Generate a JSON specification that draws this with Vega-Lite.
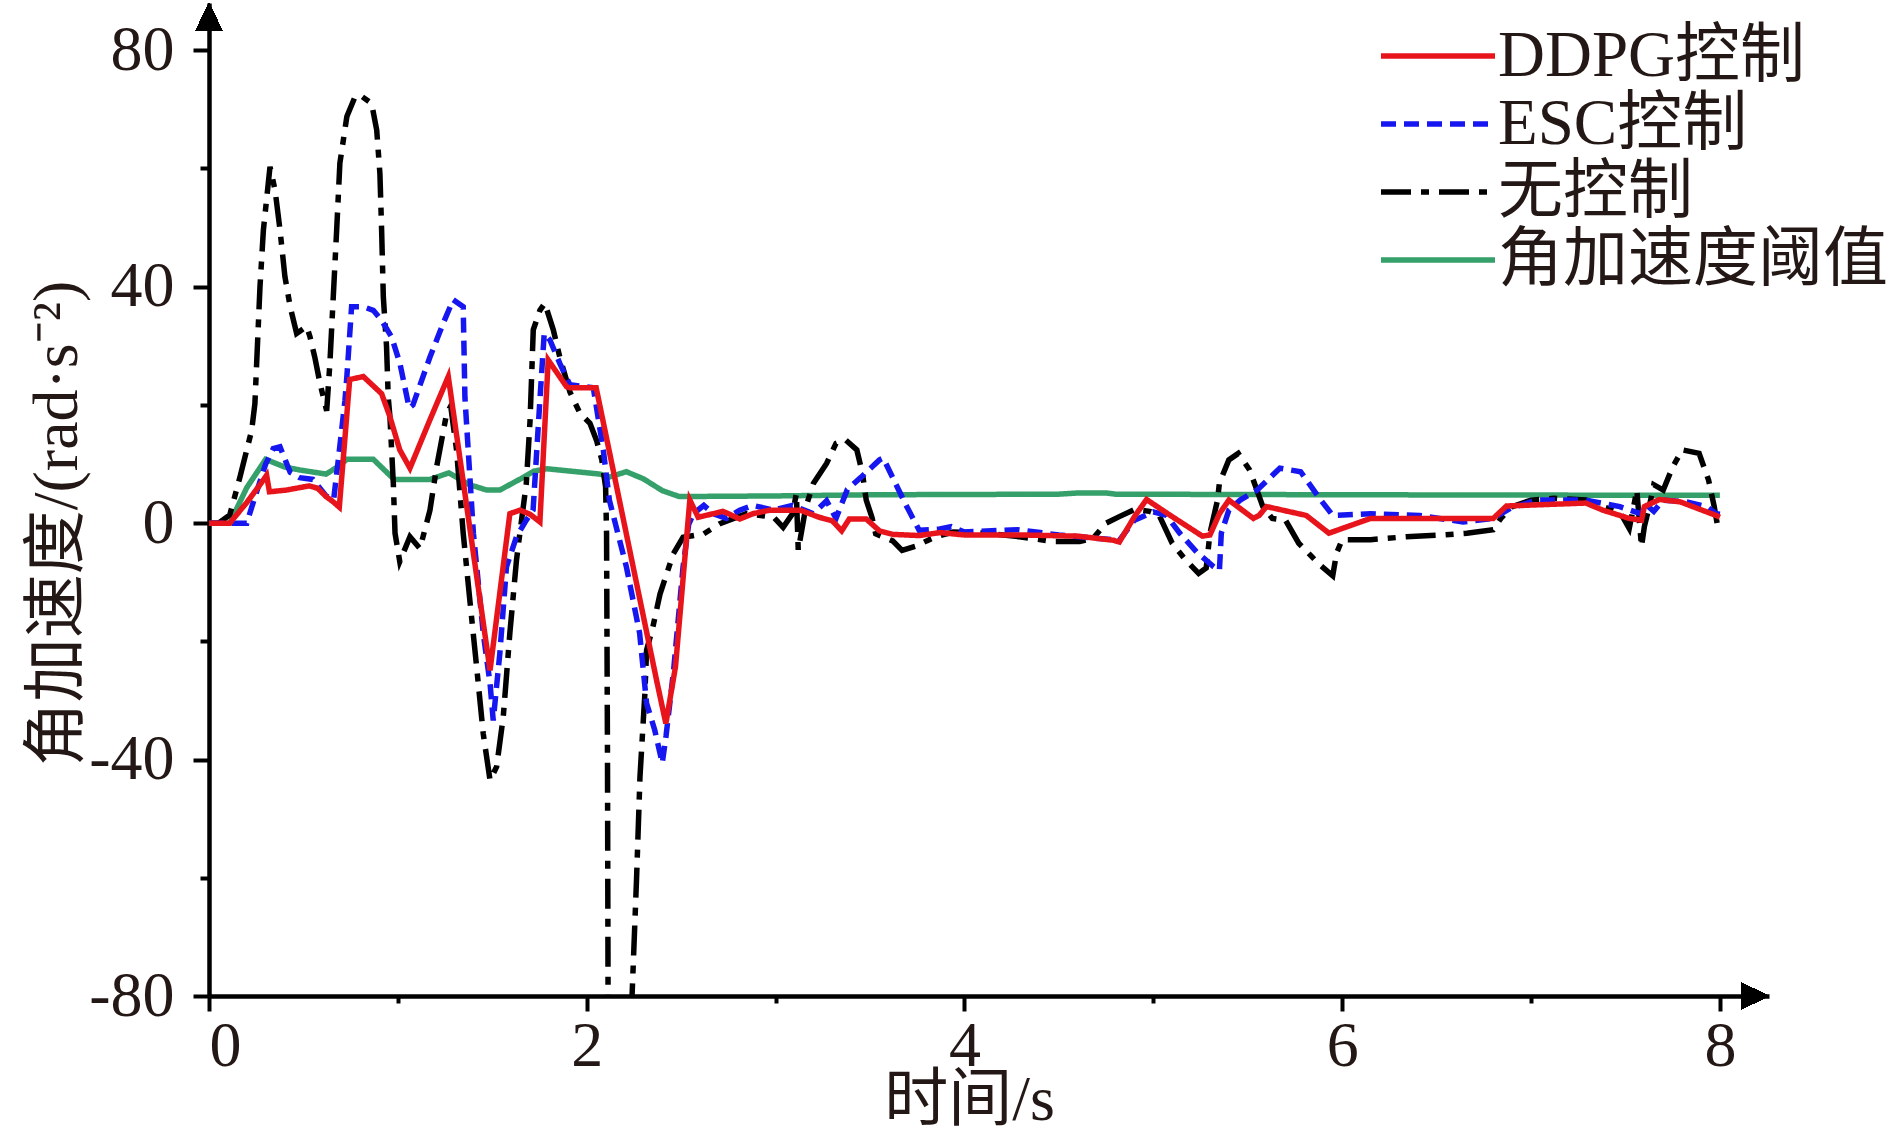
{
  "$schema": "https://vega.github.io/schema/vega-lite/v6.json",
  "width": 1560,
  "height": 993,
  "autosize": {"type": "none"},
  "padding": {"left": 209, "top": 3, "right": 121, "bottom": 144},
  "background": "white",
  "config": {"view": {"stroke": null}, "font": "Liberation Serif"},
  "resolve": {"axis": {"x": "independent", "y": "independent"}},
  "data": {"values": [
    {"time":0,"value":0,"series":"角加速度阈值"},{"time":0.11,"value":0,"series":"角加速度阈值"},{"time":0.2,"value":6,"series":"角加速度阈值"},{"time":0.3,"value":10.8,"series":"角加速度阈值"},{"time":0.4,"value":9.5,"series":"角加速度阈值"},{"time":0.48,"value":9,"series":"角加速度阈值"},{"time":0.62,"value":8.3,"series":"角加速度阈值"},{"time":0.68,"value":9.5,"series":"角加速度阈值"},{"time":0.73,"value":10.8,"series":"角加速度阈值"},{"time":0.87,"value":10.8,"series":"角加速度阈值"},{"time":0.98,"value":7.4,"series":"角加速度阈值"},{"time":1.17,"value":7.4,"series":"角加速度阈值"},{"time":1.27,"value":8.5,"series":"角加速度阈值"},{"time":1.38,"value":6.5,"series":"角加速度阈值"},{"time":1.47,"value":5.6,"series":"角加速度阈值"},{"time":1.54,"value":5.6,"series":"角加速度阈值"},{"time":1.65,"value":7.5,"series":"角加速度阈值"},{"time":1.72,"value":8.8,"series":"角加速度阈值"},{"time":1.79,"value":9.2,"series":"角加速度阈值"},{"time":2.07,"value":8.3,"series":"角加速度阈值"},{"time":2.12,"value":7.8,"series":"角加速度阈值"},{"time":2.21,"value":8.7,"series":"角加速度阈值"},{"time":2.3,"value":7.5,"series":"角加速度阈值"},{"time":2.4,"value":5.5,"series":"角加速度阈值"},{"time":2.49,"value":4.5,"series":"角加速度阈值"},{"time":3.0,"value":4.6,"series":"角加速度阈值"},{"time":3.5,"value":4.8,"series":"角加速度阈值"},{"time":4.5,"value":4.9,"series":"角加速度阈值"},{"time":4.6,"value":5.1,"series":"角加速度阈值"},{"time":4.75,"value":5.1,"series":"角加速度阈值"},{"time":4.8,"value":4.9,"series":"角加速度阈值"},{"time":6.0,"value":4.8,"series":"角加速度阈值"},{"time":8.0,"value":4.7,"series":"角加速度阈值"},

    {"time":0,"value":0,"series":"无控制"},{"time":0.05,"value":0,"series":"无控制"},{"time":0.11,"value":1.4,"series":"无控制"},{"time":0.164,"value":7.8,"series":"无控制"},{"time":0.226,"value":15.7,"series":"无控制"},{"time":0.243,"value":20.2,"series":"无控制"},{"time":0.27,"value":40,"series":"无控制"},{"time":0.288,"value":49.6,"series":"无控制"},{"time":0.323,"value":60.3,"series":"无控制"},{"time":0.35,"value":56.3,"series":"无控制"},{"time":0.376,"value":49.6,"series":"无控制"},{"time":0.402,"value":41.7,"series":"无控制"},{"time":0.43,"value":36.6,"series":"无控制"},{"time":0.464,"value":32.1,"series":"无控制"},{"time":0.517,"value":33.3,"series":"无控制"},{"time":0.535,"value":31.5,"series":"无控制"},{"time":0.56,"value":28.1,"series":"无控制"},{"time":0.588,"value":23.6,"series":"无控制"},{"time":0.623,"value":19,"series":"无控制"},{"time":0.64,"value":27,"series":"无控制"},{"time":0.658,"value":38.3,"series":"无控制"},{"time":0.676,"value":49.6,"series":"无控制"},{"time":0.693,"value":60.9,"series":"无控制"},{"time":0.73,"value":68.8,"series":"无控制"},{"time":0.773,"value":72.1,"series":"无控制"},{"time":0.8,"value":72.4,"series":"无控制"},{"time":0.861,"value":71,"series":"无控制"},{"time":0.888,"value":66.5,"series":"无控制"},{"time":0.905,"value":59.1,"series":"无控制"},{"time":0.914,"value":49.6,"series":"无控制"},{"time":0.923,"value":38.3,"series":"无控制"},{"time":0.94,"value":29.9,"series":"无控制"},{"time":0.949,"value":21.3,"series":"无控制"},{"time":0.958,"value":18,"series":"无控制"},{"time":0.976,"value":6.7,"series":"无控制"},{"time":0.985,"value":-1.7,"series":"无控制"},{"time":1.01,"value":-6.5,"series":"无控制"},{"time":1.064,"value":-2.3,"series":"无控制"},{"time":1.117,"value":-4.3,"series":"无控制"},{"time":1.17,"value":2.2,"series":"无控制"},{"time":1.205,"value":9.5,"series":"无控制"},{"time":1.258,"value":18.5,"series":"无控制"},{"time":1.28,"value":19.8,"series":"无控制"},{"time":1.311,"value":12.3,"series":"无控制"},{"time":1.346,"value":-1.7,"series":"无控制"},{"time":1.381,"value":-13,"series":"无控制"},{"time":1.417,"value":-24.3,"series":"无控制"},{"time":1.452,"value":-35.6,"series":"无控制"},{"time":1.488,"value":-43.5,"series":"无控制"},{"time":1.523,"value":-41.2,"series":"无控制"},{"time":1.558,"value":-32.8,"series":"无控制"},{"time":1.593,"value":-18.6,"series":"无控制"},{"time":1.628,"value":-6.3,"series":"无控制"},{"time":1.646,"value":-1.7,"series":"无控制"},{"time":1.68,"value":6.7,"series":"无控制"},{"time":1.7,"value":17.4,"series":"无控制"},{"time":1.717,"value":32.7,"series":"无控制"},{"time":1.752,"value":36,"series":"无控制"},{"time":1.778,"value":37.2,"series":"无控制"},{"time":1.823,"value":32.7,"series":"无控制"},{"time":1.858,"value":28,"series":"无控制"},{"time":1.911,"value":22.2,"series":"无控制"},{"time":1.964,"value":18.6,"series":"无控制"},{"time":2.017,"value":16.9,"series":"无控制"},{"time":2.052,"value":14,"series":"无控制"},{"time":2.08,"value":10.7,"series":"无控制"},{"time":2.1,"value":6.1,"series":"无控制"},{"time":2.105,"value":-1.8,"series":"无控制"},{"time":2.11,"value":-40,"series":"无控制"},{"time":2.113,"value":-80,"series":"无控制"},{"time":2.14,"value":-100,"series":"无控制"},{"time":2.2,"value":-100,"series":"无控制"},{"time":2.23,"value":-85,"series":"无控制"},{"time":2.24,"value":-80,"series":"无控制"},{"time":2.264,"value":-60,"series":"无控制"},{"time":2.282,"value":-42.9,"series":"无控制"},{"time":2.308,"value":-28.8,"series":"无控制"},{"time":2.317,"value":-21.5,"series":"无控制"},{"time":2.35,"value":-17.6,"series":"无控制"},{"time":2.388,"value":-12,"series":"无控制"},{"time":2.423,"value":-8.6,"series":"无控制"},{"time":2.458,"value":-5.2,"series":"无控制"},{"time":2.51,"value":-2.4,"series":"无控制"},{"time":2.62,"value":-1.8,"series":"无控制"},{"time":2.705,"value":-0.1,"series":"无控制"},{"time":2.846,"value":1.6,"series":"无控制"},{"time":2.99,"value":1,"series":"无控制"},{"time":3.04,"value":-0.7,"series":"无控制"},{"time":3.09,"value":1.6,"series":"无控制"},{"time":3.11,"value":5,"series":"无控制"},{"time":3.12,"value":-4.6,"series":"无控制"},{"time":3.16,"value":2.7,"series":"无控制"},{"time":3.2,"value":6.7,"series":"无控制"},{"time":3.27,"value":10.1,"series":"无控制"},{"time":3.32,"value":13.5,"series":"无控制"},{"time":3.37,"value":14.1,"series":"无控制"},{"time":3.43,"value":12.4,"series":"无控制"},{"time":3.46,"value":8.4,"series":"无控制"},{"time":3.48,"value":3.9,"series":"无控制"},{"time":3.51,"value":1,"series":"无控制"},{"time":3.53,"value":-1.8,"series":"无控制"},{"time":3.62,"value":-3,"series":"无控制"},{"time":3.67,"value":-4.6,"series":"无控制"},{"time":3.75,"value":-3.8,"series":"无控制"},{"time":3.8,"value":-3,"series":"无控制"},{"time":3.85,"value":-2.3,"series":"无控制"},{"time":3.94,"value":-1.5,"series":"无控制"},{"time":4.12,"value":-1.7,"series":"无控制"},{"time":4.29,"value":-2.3,"series":"无控制"},{"time":4.47,"value":-3.1,"series":"无控制"},{"time":4.61,"value":-3.1,"series":"无控制"},{"time":4.68,"value":-2.6,"series":"无控制"},{"time":4.75,"value":0,"series":"无控制"},{"time":4.82,"value":1.1,"series":"无控制"},{"time":4.9,"value":2.3,"series":"无控制"},{"time":4.98,"value":2,"series":"无控制"},{"time":5.03,"value":1.4,"series":"无控制"},{"time":5.1,"value":-3.4,"series":"无控制"},{"time":5.17,"value":-6.2,"series":"无控制"},{"time":5.24,"value":-8.5,"series":"无控制"},{"time":5.28,"value":-7.6,"series":"无控制"},{"time":5.3,"value":-1.7,"series":"无控制"},{"time":5.34,"value":3.9,"series":"无控制"},{"time":5.35,"value":6.8,"series":"无控制"},{"time":5.4,"value":10.7,"series":"无控制"},{"time":5.45,"value":11.8,"series":"无控制"},{"time":5.51,"value":9,"series":"无控制"},{"time":5.58,"value":2.8,"series":"无控制"},{"time":5.63,"value":0.8,"series":"无控制"},{"time":5.7,"value":0.5,"series":"无控制"},{"time":5.77,"value":-3.4,"series":"无控制"},{"time":5.88,"value":-7,"series":"无控制"},{"time":5.95,"value":-8.9,"series":"无控制"},{"time":5.97,"value":-5.1,"series":"无控制"},{"time":6.0,"value":-2.8,"series":"无控制"},{"time":6.15,"value":-2.8,"series":"无控制"},{"time":6.34,"value":-2.3,"series":"无控制"},{"time":6.53,"value":-2,"series":"无控制"},{"time":6.66,"value":-1.7,"series":"无控制"},{"time":6.8,"value":-1.1,"series":"无控制"},{"time":6.84,"value":0.8,"series":"无控制"},{"time":6.9,"value":2.8,"series":"无控制"},{"time":7.0,"value":3.9,"series":"无控制"},{"time":7.12,"value":4.2,"series":"无控制"},{"time":7.29,"value":3.9,"series":"无控制"},{"time":7.38,"value":2.8,"series":"无控制"},{"time":7.47,"value":1.9,"series":"无控制"},{"time":7.52,"value":-0.9,"series":"无控制"},{"time":7.55,"value":3.9,"series":"无控制"},{"time":7.56,"value":5.6,"series":"无控制"},{"time":7.585,"value":-4,"series":"无控制"},{"time":7.6,"value":-0.6,"series":"无控制"},{"time":7.63,"value":3.4,"series":"无控制"},{"time":7.65,"value":6.5,"series":"无控制"},{"time":7.7,"value":5.6,"series":"无控制"},{"time":7.75,"value":9.5,"series":"无控制"},{"time":7.8,"value":12.4,"series":"无控制"},{"time":7.89,"value":11.8,"series":"无控制"},{"time":7.94,"value":7.3,"series":"无控制"},{"time":7.97,"value":2.8,"series":"无控制"},{"time":7.99,"value":-0.9,"series":"无控制"},

    {"time":0,"value":0,"series":"ESC控制"},{"time":0.2,"value":0,"series":"ESC控制"},{"time":0.235,"value":3.6,"series":"ESC控制"},{"time":0.3,"value":10,"series":"ESC控制"},{"time":0.34,"value":12.6,"series":"ESC控制"},{"time":0.376,"value":12.9,"series":"ESC控制"},{"time":0.43,"value":8.6,"series":"ESC控制"},{"time":0.48,"value":7.7,"series":"ESC控制"},{"time":0.55,"value":7.4,"series":"ESC控制"},{"time":0.62,"value":4.6,"series":"ESC控制"},{"time":0.66,"value":4,"series":"ESC控制"},{"time":0.685,"value":10.8,"series":"ESC控制"},{"time":0.72,"value":20.8,"series":"ESC控制"},{"time":0.73,"value":24.8,"series":"ESC控制"},{"time":0.755,"value":36.6,"series":"ESC控制"},{"time":0.817,"value":36.6,"series":"ESC控制"},{"time":0.87,"value":36,"series":"ESC控制"},{"time":0.914,"value":34.3,"series":"ESC控制"},{"time":0.967,"value":31.5,"series":"ESC控制"},{"time":1.011,"value":27,"series":"ESC控制"},{"time":1.06,"value":19.5,"series":"ESC控制"},{"time":1.08,"value":20,"series":"ESC控制"},{"time":1.17,"value":28.1,"series":"ESC控制"},{"time":1.24,"value":33.8,"series":"ESC控制"},{"time":1.293,"value":37.8,"series":"ESC控制"},{"time":1.346,"value":36.6,"series":"ESC控制"},{"time":1.355,"value":21.3,"series":"ESC控制"},{"time":1.4,"value":-1.7,"series":"ESC控制"},{"time":1.452,"value":-18.6,"series":"ESC控制"},{"time":1.488,"value":-27.1,"series":"ESC控制"},{"time":1.505,"value":-33.4,"series":"ESC控制"},{"time":1.54,"value":-22,"series":"ESC控制"},{"time":1.575,"value":-7.4,"series":"ESC控制"},{"time":1.628,"value":-2.3,"series":"ESC控制"},{"time":1.68,"value":0.5,"series":"ESC控制"},{"time":1.716,"value":2.2,"series":"ESC控制"},{"time":1.752,"value":20.8,"series":"ESC控制"},{"time":1.775,"value":32.1,"series":"ESC控制"},{"time":1.805,"value":31,"series":"ESC控制"},{"time":1.858,"value":27,"series":"ESC控制"},{"time":1.911,"value":23.4,"series":"ESC控制"},{"time":2.035,"value":22.9,"series":"ESC控制"},{"time":2.088,"value":12.3,"series":"ESC控制"},{"time":2.12,"value":3.9,"series":"ESC控制"},{"time":2.21,"value":-7.4,"series":"ESC控制"},{"time":2.28,"value":-18.6,"series":"ESC控制"},{"time":2.317,"value":-30.5,"series":"ESC控制"},{"time":2.36,"value":-35,"series":"ESC控制"},{"time":2.4,"value":-40.6,"series":"ESC控制"},{"time":2.42,"value":-36,"series":"ESC控制"},{"time":2.46,"value":-24.9,"series":"ESC控制"},{"time":2.51,"value":-7.4,"series":"ESC控制"},{"time":2.54,"value":-0.2,"series":"ESC控制"},{"time":2.565,"value":1.6,"series":"ESC控制"},{"time":2.62,"value":3,"series":"ESC控制"},{"time":2.67,"value":1.6,"series":"ESC控制"},{"time":2.74,"value":0.8,"series":"ESC控制"},{"time":2.81,"value":2.2,"series":"ESC控制"},{"time":2.88,"value":3,"series":"ESC控制"},{"time":2.99,"value":2.2,"series":"ESC控制"},{"time":3.09,"value":3,"series":"ESC控制"},{"time":3.2,"value":1.6,"series":"ESC控制"},{"time":3.27,"value":3.8,"series":"ESC控制"},{"time":3.32,"value":0.8,"series":"ESC控制"},{"time":3.38,"value":5.7,"series":"ESC控制"},{"time":3.45,"value":7.7,"series":"ESC控制"},{"time":3.55,"value":10.7,"series":"ESC控制"},{"time":3.57,"value":11,"series":"ESC控制"},{"time":3.62,"value":7.7,"series":"ESC控制"},{"time":3.69,"value":3.1,"series":"ESC控制"},{"time":3.76,"value":-1.2,"series":"ESC控制"},{"time":3.87,"value":-1,"series":"ESC控制"},{"time":3.93,"value":-0.6,"series":"ESC控制"},{"time":4.0,"value":-1.5,"series":"ESC控制"},{"time":4.28,"value":-1.1,"series":"ESC控制"},{"time":4.5,"value":-2,"series":"ESC控制"},{"time":4.82,"value":-2.9,"series":"ESC控制"},{"time":4.9,"value":0.5,"series":"ESC控制"},{"time":5.0,"value":1.9,"series":"ESC控制"},{"time":5.07,"value":1.3,"series":"ESC控制"},{"time":5.14,"value":-1.7,"series":"ESC控制"},{"time":5.23,"value":-4.9,"series":"ESC控制"},{"time":5.32,"value":-7.4,"series":"ESC控制"},{"time":5.35,"value":-8,"series":"ESC控制"},{"time":5.36,"value":-1.7,"series":"ESC控制"},{"time":5.4,"value":2.2,"series":"ESC控制"},{"time":5.46,"value":3.9,"series":"ESC控制"},{"time":5.55,"value":5.6,"series":"ESC控制"},{"time":5.67,"value":9.3,"series":"ESC控制"},{"time":5.78,"value":8.7,"series":"ESC控制"},{"time":5.88,"value":4.2,"series":"ESC控制"},{"time":5.95,"value":1.3,"series":"ESC控制"},{"time":6.15,"value":1.6,"series":"ESC控制"},{"time":6.41,"value":1.3,"series":"ESC控制"},{"time":6.64,"value":0.2,"series":"ESC控制"},{"time":6.8,"value":0.8,"series":"ESC控制"},{"time":6.89,"value":2.5,"series":"ESC控制"},{"time":7.03,"value":3.9,"series":"ESC控制"},{"time":7.29,"value":3.9,"series":"ESC控制"},{"time":7.47,"value":2.8,"series":"ESC控制"},{"time":7.58,"value":1.6,"series":"ESC控制"},{"time":7.61,"value":3.1,"series":"ESC控制"},{"time":7.65,"value":2,"series":"ESC控制"},{"time":7.7,"value":3.9,"series":"ESC控制"},{"time":7.82,"value":3.6,"series":"ESC控制"},{"time":7.93,"value":2.8,"series":"ESC控制"},{"time":7.98,"value":1.6,"series":"ESC控制"},{"time":8.0,"value":1.5,"series":"ESC控制"},

    {"time":0,"value":0,"series":"DDPG控制"},{"time":0.11,"value":0,"series":"DDPG控制"},{"time":0.2,"value":3.5,"series":"DDPG控制"},{"time":0.27,"value":6.5,"series":"DDPG控制"},{"time":0.305,"value":8.1,"series":"DDPG控制"},{"time":0.32,"value":5.3,"series":"DDPG控制"},{"time":0.41,"value":5.6,"series":"DDPG控制"},{"time":0.53,"value":6.3,"series":"DDPG控制"},{"time":0.575,"value":5.9,"series":"DDPG控制"},{"time":0.62,"value":4.5,"series":"DDPG控制"},{"time":0.658,"value":3.6,"series":"DDPG控制"},{"time":0.69,"value":2.7,"series":"DDPG控制"},{"time":0.745,"value":24.3,"series":"DDPG控制"},{"time":0.817,"value":24.8,"series":"DDPG控制"},{"time":0.914,"value":21.9,"series":"DDPG控制"},{"time":0.958,"value":18,"series":"DDPG控制"},{"time":1.01,"value":12.4,"series":"DDPG控制"},{"time":1.064,"value":9.3,"series":"DDPG控制"},{"time":1.17,"value":17.5,"series":"DDPG控制"},{"time":1.267,"value":24.8,"series":"DDPG控制"},{"time":1.488,"value":-24.9,"series":"DDPG控制"},{"time":1.593,"value":1.6,"series":"DDPG控制"},{"time":1.647,"value":2.2,"series":"DDPG控制"},{"time":1.7,"value":1.5,"series":"DDPG控制"},{"time":1.752,"value":0.2,"series":"DDPG控制"},{"time":1.796,"value":27.6,"series":"DDPG控制"},{"time":1.893,"value":23.1,"series":"DDPG控制"},{"time":1.91,"value":22.9,"series":"DDPG控制"},{"time":2.05,"value":22.9,"series":"DDPG控制"},{"time":2.37,"value":-26.6,"series":"DDPG控制"},{"time":2.419,"value":-33.9,"series":"DDPG控制"},{"time":2.47,"value":-24.3,"series":"DDPG控制"},{"time":2.546,"value":3.9,"series":"DDPG控制"},{"time":2.59,"value":1,"series":"DDPG控制"},{"time":2.67,"value":1.6,"series":"DDPG控制"},{"time":2.72,"value":2,"series":"DDPG控制"},{"time":2.75,"value":1.6,"series":"DDPG控制"},{"time":2.81,"value":0.7,"series":"DDPG控制"},{"time":2.88,"value":1.6,"series":"DDPG控制"},{"time":2.97,"value":2.2,"series":"DDPG控制"},{"time":3.13,"value":2.2,"series":"DDPG控制"},{"time":3.23,"value":1,"series":"DDPG控制"},{"time":3.3,"value":0.4,"series":"DDPG控制"},{"time":3.35,"value":-1.3,"series":"DDPG控制"},{"time":3.39,"value":0.7,"series":"DDPG控制"},{"time":3.48,"value":0.7,"series":"DDPG控制"},{"time":3.55,"value":-1.3,"series":"DDPG控制"},{"time":3.62,"value":-1.9,"series":"DDPG控制"},{"time":3.76,"value":-2.1,"series":"DDPG控制"},{"time":3.87,"value":-1.6,"series":"DDPG控制"},{"time":4.0,"value":-2,"series":"DDPG控制"},{"time":4.3,"value":-2,"series":"DDPG控制"},{"time":4.6,"value":-2.2,"series":"DDPG控制"},{"time":4.79,"value":-2.9,"series":"DDPG控制"},{"time":4.82,"value":-3.2,"series":"DDPG控制"},{"time":4.9,"value":1.1,"series":"DDPG控制"},{"time":4.964,"value":4,"series":"DDPG控制"},{"time":5.1,"value":1.1,"series":"DDPG控制"},{"time":5.26,"value":-2.2,"series":"DDPG控制"},{"time":5.3,"value":-2,"series":"DDPG控制"},{"time":5.35,"value":1.6,"series":"DDPG控制"},{"time":5.4,"value":3.9,"series":"DDPG控制"},{"time":5.53,"value":0.8,"series":"DDPG控制"},{"time":5.56,"value":1.3,"series":"DDPG控制"},{"time":5.6,"value":2.8,"series":"DDPG控制"},{"time":5.81,"value":1.3,"series":"DDPG控制"},{"time":5.93,"value":-1.7,"series":"DDPG控制"},{"time":6.15,"value":0.8,"series":"DDPG控制"},{"time":6.8,"value":0.8,"series":"DDPG控制"},{"time":6.87,"value":2.9,"series":"DDPG控制"},{"time":7.29,"value":3.4,"series":"DDPG控制"},{"time":7.38,"value":2.2,"series":"DDPG控制"},{"time":7.52,"value":0.8,"series":"DDPG控制"},{"time":7.585,"value":0.5,"series":"DDPG控制"},{"time":7.6,"value":2.8,"series":"DDPG控制"},{"time":7.68,"value":4,"series":"DDPG控制"},{"time":7.79,"value":3.6,"series":"DDPG控制"},{"time":7.98,"value":1.3,"series":"DDPG控制"},{"time":8.0,"value":1,"series":"DDPG控制"}
  ]},
  "layer": [
    {
      "encoding": {
        "x": {
          "field": "time", "type": "quantitative",
          "scale": {"domain": [0, 8.26], "nice": false, "zero": false},
          "axis": {
            "orient": "bottom",
            "values": [0,2,4,6,8],
            "labelExpr": "'' + datum.value",
            "tickSize": 15, "tickWidth": 4, "tickColor": "black",
            "domainWidth": 4.5, "domainColor": "black",
            "grid": false,
            "labelFont": "Liberation Serif", "labelFontSize": 64, "labelColor": "#231815",
            "labelPadding": 3, "labelFlush": false, "labelOverlap": false,
            "labelAlign": {"condition": {"test": "datum.value === 0", "value": "left"}, "value": "center"},
            "title": "时间/s",
            "titleFont": "Liberation Serif, Noto Sans CJK SC", "titleFontSize": 64, "titleFontWeight": "normal", "titleColor": "#231815",
            "titleX": 760, "titleY": 123, "titleBaseline": "alphabetic"
          }
        },
        "y": {
          "field": "value", "type": "quantitative",
          "scale": {"domain": [-80, 88], "nice": false, "zero": false},
          "axis": {
            "orient": "left",
            "values": [-80,-40,0,40,80],
            "labelExpr": "'' + datum.value",
            "tickSize": 16, "tickWidth": 4, "tickColor": "black",
            "domainWidth": 4.5, "domainColor": "black",
            "grid": false,
            "labelFont": "Liberation Serif", "labelFontSize": 64, "labelColor": "#231815",
            "labelPadding": 19, "labelFlush": false, "labelOverlap": false,
            "title": "角加速度/(rad·s⁻²)",
            "titleFont": "Liberation Serif, Noto Sans CJK SC", "titleFontSize": 64, "titleFontWeight": "normal", "titleColor": "#231815",
            "titleX": -152, "titleY": 520, "titleBaseline": "middle", "titleAngle": -90
          }
        },
        "color": {
          "field": "series", "type": "nominal",
          "scale": {"domain": ["DDPG控制","ESC控制","无控制","角加速度阈值"], "range": ["#e8141c","#1616f0","#000000","#35a06a"]},
          "legend": {
            "title": null, "orient": "none", "legendX": 1169, "legendY": 19, "padding": 0,
            "symbolType": "stroke", "symbolSize": 12996, "symbolStrokeWidth": 5.5,
            "clipHeight": 68, "rowPadding": 0, "labelOffset": 0, "labelLimit": 0,
            "labelFont": "Liberation Serif, Noto Sans CJK SC", "labelFontSize": 65, "labelColor": "#231815"
          }
        },
        "strokeDash": {
          "field": "series", "type": "nominal",
          "scale": {"domain": ["DDPG控制","ESC控制","无控制","角加速度阈值"], "range": [[1,0],[15,8],[30,10,8,10],[1,0]]},
          "legend": {
            "title": null, "orient": "none", "legendX": 1169, "legendY": 19, "padding": 0,
            "symbolType": "stroke", "symbolSize": 12996, "symbolStrokeWidth": 5.5,
            "clipHeight": 68, "rowPadding": 0, "labelOffset": 0, "labelLimit": 0,
            "labelFont": "Liberation Serif, Noto Sans CJK SC", "labelFontSize": 65, "labelColor": "#231815"
          }
        }
      },
      "layer": [
        {"transform": [{"filter": "datum.series === '角加速度阈值'"}], "mark": {"type": "line", "strokeWidth": 5.5, "clip": true}},
        {"transform": [{"filter": "datum.series === '无控制'"}], "mark": {"type": "line", "strokeWidth": 5.5, "clip": true}},
        {"transform": [{"filter": "datum.series === 'ESC控制'"}], "mark": {"type": "line", "strokeWidth": 5.5, "clip": true}},
        {"transform": [{"filter": "datum.series === 'DDPG控制'"}], "mark": {"type": "line", "strokeWidth": 5.5, "clip": true}}
      ]
    },
    {
      "mark": {"type": "point", "shape": "M0,-1L0.95,1L-0.95,1Z", "filled": true, "color": "black", "opacity": 1, "size": 784, "strokeWidth": 0},
      "encoding": {
        "x": {"datum": 0, "type": "quantitative",
          "axis": {"orient": "bottom", "values": [1,3,5,7], "tickSize": 7, "tickWidth": 4, "tickColor": "black", "domain": false, "labels": false, "grid": false, "title": null}},
        "y": {"datum": 85.63, "type": "quantitative",
          "axis": {"orient": "left", "values": [-60,-20,20,60], "tickSize": 9, "tickWidth": 4, "tickColor": "black", "domain": false, "labels": false, "grid": false, "title": null}}
      }
    },
    {
      "mark": {"type": "point", "shape": "M1,0L-1,-0.95L-1,0.95Z", "filled": true, "color": "black", "opacity": 1, "size": 784, "strokeWidth": 0},
      "encoding": {
        "x": {"datum": 8.186, "type": "quantitative",
          "axis": {"orient": "bottom", "values": [], "ticks": false, "domain": false, "labels": false, "grid": false, "title": null}},
        "y": {"datum": -80, "type": "quantitative",
          "axis": {"orient": "left", "values": [], "ticks": false, "domain": false, "labels": false, "grid": false, "title": null}}
      }
    }
  ]
}
